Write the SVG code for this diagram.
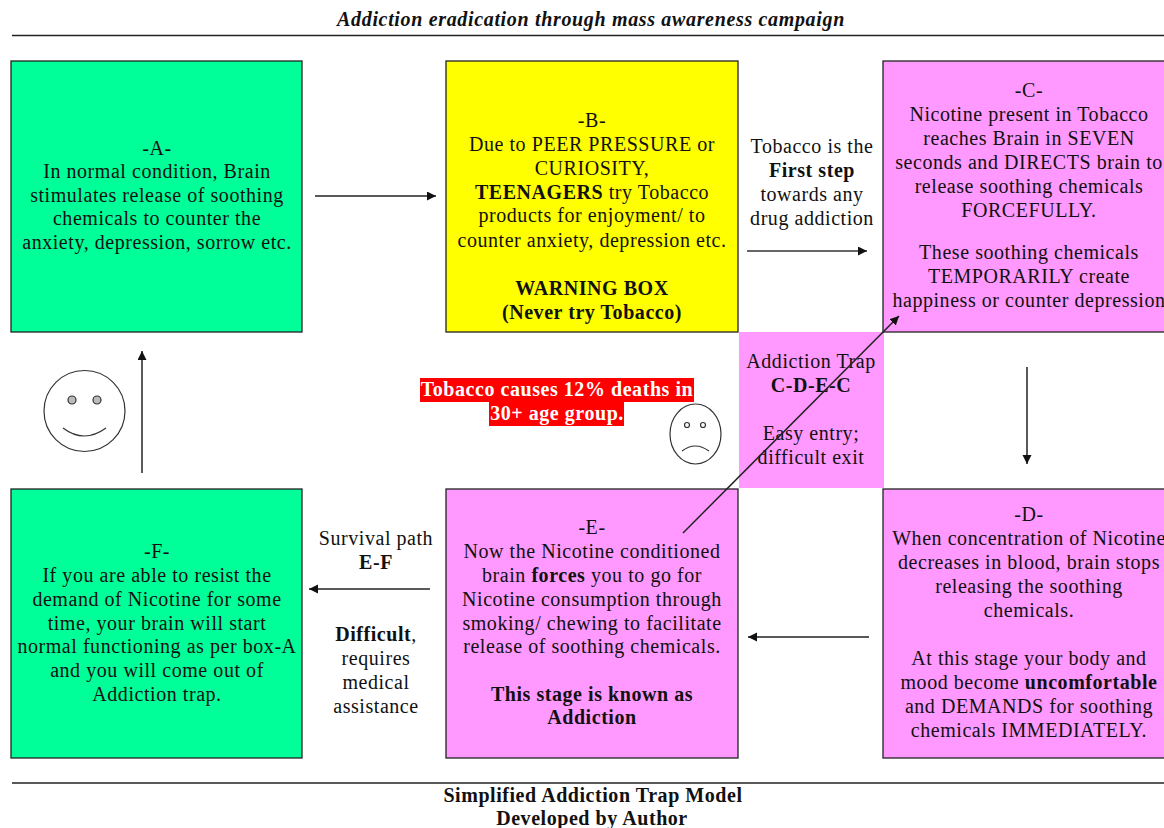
<svg xmlns="http://www.w3.org/2000/svg" width="1164" height="828" viewBox="0 0 1164 828">
<style>
text{font-family:"Liberation Serif","Times New Roman",serif;font-size:20px;letter-spacing:.55px;fill:#111;text-anchor:middle}
.b,tspan.b{font-weight:bold}
.box{stroke:#222;stroke-width:1.3}
.g{fill:#00ff99}.y{fill:#ffff00}.p{fill:#ff99ff}
.c line,.c path{stroke:#222;stroke-width:1.5;fill:none}
.f{fill:none;stroke:#333;stroke-width:1.2}
</style>
<defs><marker id="a" markerUnits="userSpaceOnUse" markerWidth="10" markerHeight="10" refX="9" refY="4.500" orient="auto"><path d="M0 0L9 4.500L0 9Z" fill="#111"/></marker></defs>
<rect width="1164" height="828" fill="#fff"/>
<g id="header"><text x="591" y="26" class="b" style="font-style:italic;letter-spacing:.66px">Addiction eradication through mass awareness campaign</text>
<line x1="12" y1="35.500" x2="1164" y2="35.500" stroke="#222" stroke-width="1.300"/></g>
<g id="trap"><rect x="739" y="332" width="145" height="156" class="p"/>
<text x="811" y="368">Addiction Trap</text><text x="811" y="392" class="b">C-D-E-C</text><text x="811" y="440">Easy entry;</text><text x="811" y="464">difficult exit</text></g>
<g id="node-a"><rect x="11" y="61" width="291" height="271" class="box g"/>
<text x="157" y="155">-A-</text><text x="157" y="178">In normal condition, Brain</text><text x="157" y="202">stimulates release of soothing</text><text x="157" y="225">chemicals to counter the</text><text x="157" y="249">anxiety, depression, sorrow etc.</text></g>
<g id="node-b"><rect x="446" y="61" width="292" height="271" class="box y"/>
<text x="592" y="127">-B-</text><text x="592" y="151">Due to PEER PRESSURE or</text><text x="592" y="175">CURIOSITY,</text><text x="592" y="199"><tspan class="b">TEENAGERS</tspan> try Tobacco</text><text x="592" y="222">products for enjoyment/ to</text><text x="592" y="247">counter anxiety, depression etc.</text><text x="592" y="295" class="b">WARNING BOX</text><text x="592" y="319" class="b">(Never try Tobacco)</text></g>
<g id="node-c"><rect x="883" y="61" width="300" height="271" class="box p"/>
<text x="1029" y="97">-C-</text><text x="1029" y="121">Nicotine present in Tobacco</text><text x="1029" y="145">reaches Brain in SEVEN</text><text x="1029" y="169">seconds and DIRECTS brain to</text><text x="1029" y="193">release soothing chemicals</text><text x="1029" y="217">FORCEFULLY.</text><text x="1029" y="259">These soothing chemicals</text><text x="1029" y="283">TEMPORARILY create</text><text x="1029" y="307">happiness or counter depression</text></g>
<g id="node-d"><rect x="883" y="489" width="300" height="269" class="box p"/>
<text x="1029" y="521">-D-</text><text x="1029" y="545">When concentration of Nicotine</text><text x="1029" y="569">decreases in blood, brain stops</text><text x="1029" y="593">releasing the soothing</text><text x="1029" y="617">chemicals.</text><text x="1029" y="665">At this stage your body and</text><text x="1029" y="689">mood become <tspan class="b">uncomfortable</tspan></text><text x="1029" y="713">and DEMANDS for soothing</text><text x="1029" y="737">chemicals IMMEDIATELY.</text></g>
<g id="node-e"><rect x="446" y="489" width="292" height="269" class="box p"/>
<text x="592" y="534">-E-</text><text x="592" y="558">Now the Nicotine conditioned</text><text x="592" y="582">brain <tspan class="b">forces</tspan> you to go for</text><text x="592" y="606">Nicotine consumption through</text><text x="592" y="630">smoking/ chewing to facilitate</text><text x="592" y="653">release of soothing chemicals.</text><text x="592" y="701" class="b">This stage is known as</text><text x="592" y="724" class="b">Addiction</text></g>
<g id="node-f"><rect x="11" y="489" width="291" height="269" class="box g"/>
<text x="157" y="558">-F-</text><text x="157" y="582">If you are able to resist the</text><text x="157" y="606">demand of Nicotine for some</text><text x="157" y="630">time, your brain will start</text><text x="157" y="653">normal functioning as per box-A</text><text x="157" y="677">and you will come out of</text><text x="157" y="701">Addiction trap.</text></g>
<g id="labels">
<text x="812" y="153">Tobacco is the</text><text x="812" y="177" class="b">First step</text><text x="812" y="201">towards any</text><text x="812" y="225">drug addiction</text>
<text x="376" y="545">Survival path</text><text x="376" y="569" class="b">E-F</text><text x="376" y="641"><tspan class="b">Difficult</tspan>,</text><text x="376" y="665">requires</text><text x="376" y="689">medical</text><text x="376" y="713">assistance</text>
</g>
<g id="warning"><rect x="420" y="378" width="274" height="24" fill="#f00"/><rect x="489" y="402" width="135" height="24" fill="#f00"/>
<text x="557" y="396" class="b" style="fill:#fff">Tobacco causes 12% deaths in</text><text x="557" y="420" class="b" style="fill:#fff">30+ age group.</text></g>
<g id="happy" class="f"><circle cx="84.500" cy="411" r="40.500"/><circle cx="72" cy="400" r="4" fill="#bbb"/><circle cx="97" cy="400" r="4" fill="#bbb"/><path d="M63 428Q84 444 106 428"/></g>
<g id="sad" class="f"><ellipse cx="695.500" cy="434" rx="25.500" ry="30"/><circle cx="687" cy="425" r="2.500"/><circle cx="703" cy="425" r="2.500"/><path d="M682 451Q695 441 709 451"/></g>
<g id="connectors" class="c">
<line x1="315" y1="196" x2="436" y2="196" marker-end="url(#a)"/>
<line x1="747" y1="251" x2="867" y2="251" marker-end="url(#a)" style="stroke:#666;stroke-width:2"/>
<line x1="1027" y1="367" x2="1027" y2="464" marker-end="url(#a)"/>
<line x1="869" y1="637" x2="748" y2="637" marker-end="url(#a)"/>
<line x1="683" y1="533" x2="899" y2="316" marker-end="url(#a)"/>
<line x1="430" y1="589" x2="309" y2="589" marker-end="url(#a)"/>
<line x1="142" y1="473" x2="142" y2="351" marker-end="url(#a)"/>
</g>
<g id="footer"><line x1="12" y1="783" x2="1164" y2="783" stroke="#222" stroke-width="1.300"/>
<text x="593" y="802" class="b">Simplified Addiction Trap Model</text><text x="592" y="825" class="b">Developed by Author</text></g>
</svg>
